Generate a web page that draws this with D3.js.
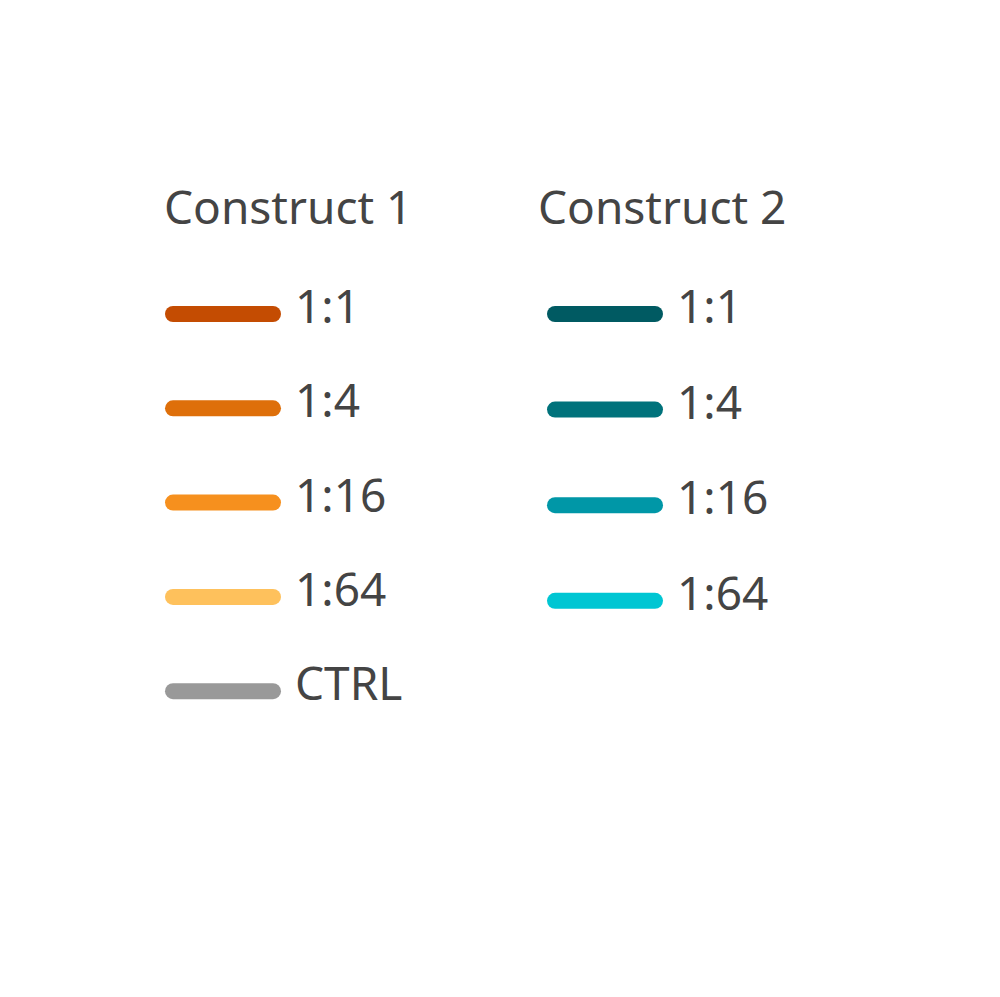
<!DOCTYPE html>
<html>
<head>
<meta charset="utf-8">
<script src="https://cdn.jsdelivr.net/npm/d3@7"></script>
<style>
  html, body { margin: 0; padding: 0; background: #fff; }
</style>
</head>
<body>
<svg id="chart" width="1000" height="997"></svg>
<script>
// legend groups
var groupTitles = ["Construct 1", "Construct 2"];
var construct1Labels = ["1:1", "1:4", "1:16", "1:64", "CTRL"];
var construct1Colors = ["#c44c02", "#de6f0a", "#f6901e", "#fec15c", "#999999"];
var construct2Labels = ["1:1", "1:4", "1:16", "1:64"];
var construct2Colors = ["#005a62", "#00727b", "#0097a7", "#00c6d3"];

var font = "'Noto Sans', 'Open Sans', sans-serif";
var textColor = "#444444";

var svg = d3.select("#chart");

function drawGroup(title, labels, colors, titleX, lineX, yStep) {
    svg.append("text")
        .attr("x", titleX)
        .attr("y", 224)
        .attr("font-family", font)
        .attr("font-size", "46px")
        .attr("fill", textColor)
        .text(title);

    var g = svg.append("g").attr("transform", "translate(" + lineX + ",0)");

    var y = d3.scaleLinear()
        .domain([0, 1])
        .range([314, 314 + yStep]);

    var rows = g.selectAll("g.row")
        .data(labels)
        .enter()
        .append("g")
        .attr("class", "row")
        .attr("transform", function (d, i) { return "translate(0," + y(i) + ")"; });

    rows.append("line")
        .attr("x1", 8)
        .attr("x2", 108)
        .attr("y1", 0)
        .attr("y2", 0)
        .attr("stroke", function (d, i) { return colors[i]; })
        .attr("stroke-width", 16)
        .attr("stroke-linecap", "round");

    rows.append("text")
        .attr("x", 130)
        .attr("y", 9)
        .attr("font-family", font)
        .attr("font-size", "46px")
        .attr("fill", textColor)
        .text(function (d) { return d; });
}

drawGroup(groupTitles[0], construct1Labels, construct1Colors, 164, 165, 94.3);
drawGroup(groupTitles[1], construct2Labels, construct2Colors, 538, 547, 95.6);
</script>
</body>
</html>
